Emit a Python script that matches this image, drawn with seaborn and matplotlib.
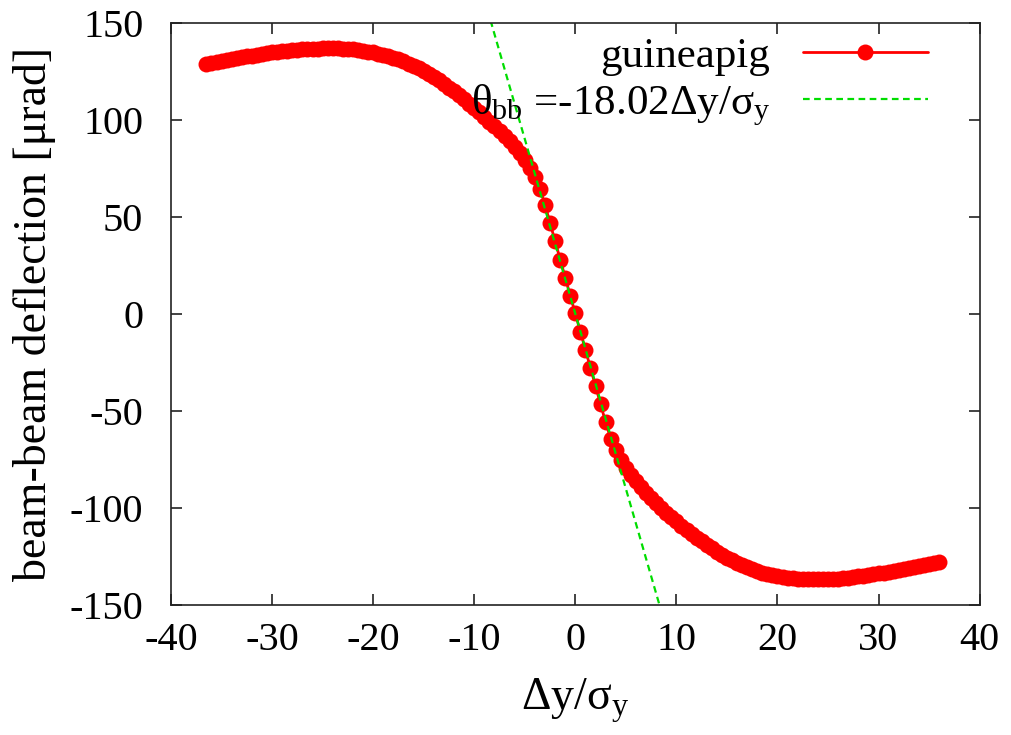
import matplotlib
matplotlib.use("Agg")
import matplotlib.pyplot as plt
import seaborn as sns

# beam-beam deflection vs vertical offset (guineapig)
dy_neg = [-36.5, -36.0, -35.5, -35.0, -34.5, -34.0, -33.5, -33.0, -32.5, -32.0,
          -31.5, -31.0, -30.5, -30.0, -29.5, -29.0, -28.5, -28.0, -27.5, -27.0,
          -26.5, -26.0, -25.5, -25.0, -24.5, -24.0, -23.5, -23.0, -22.5, -22.0,
          -21.5, -21.0, -20.5, -20.0, -19.5, -19.0, -18.5, -18.0, -17.5, -17.0,
          -16.5, -16.0, -15.5, -15.0, -14.5, -14.0, -13.5, -13.0, -12.5, -12.0,
          -11.5, -11.0, -10.5, -10.0, -9.5, -9.0, -8.5, -8.0, -7.5, -7.0,
          -6.5, -6.0, -5.5, -5.0, -4.5, -4.0, -3.5, -3.0, -2.5, -2.0,
          -1.5, -1.0, -0.5, 0.0]
defl_neg = [128.8, 129.3, 129.8, 130.3, 130.8, 131.3, 131.8, 132.3, 132.7, 133.1,
            133.5, 133.9, 134.3, 134.7, 135.0, 135.3, 135.6, 135.9, 136.1, 136.3,
            136.5, 136.6, 136.7, 136.8, 136.9, 136.9, 136.8, 136.7, 136.5, 136.3,
            136.0, 135.6, 135.2, 134.7, 134.1, 133.5, 132.8, 132.0, 131.1, 130.1,
            129.0, 127.8, 126.5, 125.1, 123.6, 122.0, 120.3, 118.5, 116.6, 114.6,
            112.6, 110.5, 108.3, 106.1, 103.8, 101.5, 99.1, 96.7, 94.2, 91.6,
            88.9, 86.0, 82.8, 79.3, 75.3, 70.6, 64.5, 56.2, 46.8, 37.4,
            28.0, 18.7, 9.4, 0.2]

dy_pos = [0.5, 1.0, 1.5, 2.0, 2.5, 3.0, 3.5, 4.0, 4.5, 5.0,
          5.5, 6.0, 6.5, 7.0, 7.5, 8.0, 8.5, 9.0, 9.5, 10.0,
          10.5, 11.0, 11.5, 12.0, 12.5, 13.0, 13.5, 14.0, 14.5, 15.0,
          15.5, 16.0, 16.5, 17.0, 17.5, 18.0, 18.5, 19.0, 19.5, 20.0,
          20.5, 21.0, 21.5, 22.0, 22.5, 23.0, 23.5, 24.0, 24.5, 25.0,
          25.5, 26.0, 26.5, 27.0, 27.5, 28.0, 28.5, 29.0, 29.5, 30.0,
          30.5, 31.0, 31.5, 32.0, 32.5, 33.0, 33.5, 34.0, 34.5, 35.0,
          35.5, 36.0]
defl_pos = [-9.2, -18.5, -27.8, -37.2, -46.6, -55.9, -64.3, -70.4, -75.4, -79.5,
            -83.1, -86.4, -89.4, -92.2, -94.9, -97.5, -100.0, -102.4, -104.7, -107.0,
            -109.2, -111.3, -113.3, -115.3, -117.2, -119.0, -120.8, -122.5, -124.1, -125.6,
            -127.0, -128.3, -129.5, -130.6, -131.6, -132.5, -133.3, -134.0, -134.6, -135.1,
            -135.6, -136.0, -136.3, -136.5, -136.7, -136.8, -136.9, -136.9, -136.8, -136.7,
            -136.6, -136.4, -136.2, -135.9, -135.6, -135.3, -135.0, -134.6, -134.2, -133.8,
            -133.4, -133.0, -132.5, -132.0, -131.5, -131.0, -130.5, -130.0, -129.5, -129.0,
            -128.5, -128.0]

dy = dy_neg + dy_pos
defl = defl_neg + defl_pos

# linear fit theta_bb = -18.02 dy/sigma_y, end points
fit_x = [-9.0, 9.0]
fit_y = [162.2, -162.2]

sns.set_theme(style="ticks")
plt.rcParams["font.family"] = ["Liberation Serif", "DejaVu Serif"]
plt.rcParams["mathtext.fontset"] = "custom"
plt.rcParams["mathtext.rm"] = "Liberation Serif"
plt.rcParams["mathtext.it"] = "Liberation Serif:italic"
plt.rcParams["text.color"] = "black"
plt.rcParams["axes.labelcolor"] = "black"
plt.rcParams["xtick.labelcolor"] = "black"
plt.rcParams["ytick.labelcolor"] = "black"
fs = 29
fs_lab = 33

fig = plt.figure(figsize=(10.12, 7.35), dpi=100)
ax = fig.add_axes([0.169, 0.177, 0.799, 0.792])

sns.lineplot(x=dy, y=defl, ax=ax, color="#ff0000", marker="o", markersize=11.5,
             markeredgewidth=0, linewidth=2, sort=False, estimator=None,
             label="guineapig")
sns.lineplot(x=fit_x, y=fit_y, ax=ax, color="#00dd00", linewidth=1.6,
             linestyle=(0, (3, 2)), sort=False, estimator=None,
             label=r"θ$_\mathrm{bb}$ =-18.02Δy/σ$_\mathrm{y}$")

ax.set_xlim(-40, 40)
ax.set_ylim(-150, 150)
ax.set_xticks([-40, -30, -20, -10, 0, 10, 20, 30, 40])
ax.set_yticks([-150, -100, -50, 0, 50, 100, 150])
ax.set_xticklabels(["-40", "-30", "-20", "-10", "0", "10", "20", "30", "40"])
ax.set_yticklabels(["-150", "-100", "-50", "0", "50", "100", "150"])

ax.tick_params(direction="in", length=8, width=1.2, top=True, right=True,
               labelsize=fs, color="#222222")
ax.tick_params(axis="y", pad=20)
ax.tick_params(axis="x", pad=12)
for s in ax.spines.values():
    s.set_linewidth(1.2)
    s.set_color("#222222")

ax.set_xlabel(r"Δy/σ$_\mathrm{y}$", fontsize=fs_lab, labelpad=13)
ax.set_ylabel("beam-beam deflection [μrad]", fontsize=fs_lab, labelpad=10)

ax.legend(loc="upper right", bbox_to_anchor=(0.957, 1.005), markerfirst=False,
          frameon=False, fontsize=31, handlelength=2.9, handletextpad=0.75,
          labelspacing=0.15, borderaxespad=0)

plt.savefig("out.png", dpi=100)
